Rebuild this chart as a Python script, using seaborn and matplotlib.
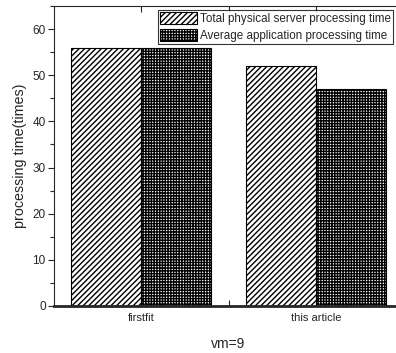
import matplotlib
matplotlib.use("Agg")
import matplotlib.pyplot as plt
from matplotlib.ticker import MultipleLocator
from matplotlib.patches import Patch
import seaborn as sns
import pandas as pd

categories = ["firstfit", "this article"]
series_names = ["Total physical server processing time", "Average application processing time"]
total_time = [56, 52]
avg_time = [56, 47]

df = pd.DataFrame({
    "category": categories * 2,
    "series": [series_names[0]] * 2 + [series_names[1]] * 2,
    "value": total_time + avg_time,
})

sns.set_style("ticks")
plt.rcParams["font.family"] = ["Liberation Sans", "DejaVu Sans"]
plt.rcParams["hatch.linewidth"] = 1.0
plt.rcParams["hatch.color"] = "black"

fig = plt.figure(figsize=(3.96, 3.53), dpi=100)
W, H = 396, 353
left, right, top, bottom = 54, 403, 6, 306
ax = fig.add_axes([left / W, 1 - bottom / H, (right - left) / W, (bottom - top) / H])

sns.barplot(data=df, x="category", y="value", hue="series", ax=ax,
            palette=["white", "white"], edgecolor="black", linewidth=0.8,
            width=0.8, legend=False)

hatches = ["//////", "++++++"]
for cont, h in zip(ax.containers, hatches):
    for bar in cont:
        bar.set_hatch(h)
        bar.set_edgecolor("black")
        bar.set_facecolor("white")

ax.set_ylim(0, 65)
ax.set_xlim(-0.497, 1.497)
ax.yaxis.set_major_locator(MultipleLocator(10))
ax.yaxis.set_minor_locator(MultipleLocator(5))
ax.xaxis.set_minor_locator(MultipleLocator(0.5))
ax.tick_params(axis="y", which="major", direction="out", length=4, width=0.8, labelsize=8.5, pad=2)
ax.tick_params(axis="y", which="minor", direction="out", length=3, width=0.8)
ax.tick_params(axis="x", which="both", direction="in", top=True, bottom=True, length=4, width=0.8,
               labelsize=8, pad=5)
ax.set_ylabel("processing time(times)", fontsize=10.3, labelpad=4)
ax.set_xlabel("vm=9", fontsize=10, labelpad=10)

for s in ["left", "top"]:
    ax.spines[s].set_linewidth(0.8)
ax.spines["bottom"].set_linewidth(2.0)
ax.spines["right"].set_visible(False)
ax.set_zorder(1)

handles = [Patch(facecolor="white", edgecolor="black", hatch=hatches[0], linewidth=0.8),
           Patch(facecolor="white", edgecolor="black", hatch=hatches[1], linewidth=0.8)]
leg = fig.legend(handles, series_names, loc="upper right",
                 bbox_to_anchor=(393 / W, 1 - 10 / H), bbox_transform=fig.transFigure,
                 fontsize=8.4, frameon=True, fancybox=False, edgecolor="black",
                 borderpad=0.2, labelspacing=0.3, handlelength=3.2, handleheight=1.2,
                 handletextpad=0.2, borderaxespad=0)
leg.get_frame().set_linewidth(0.8)

fig.savefig("out.png", dpi=100)
